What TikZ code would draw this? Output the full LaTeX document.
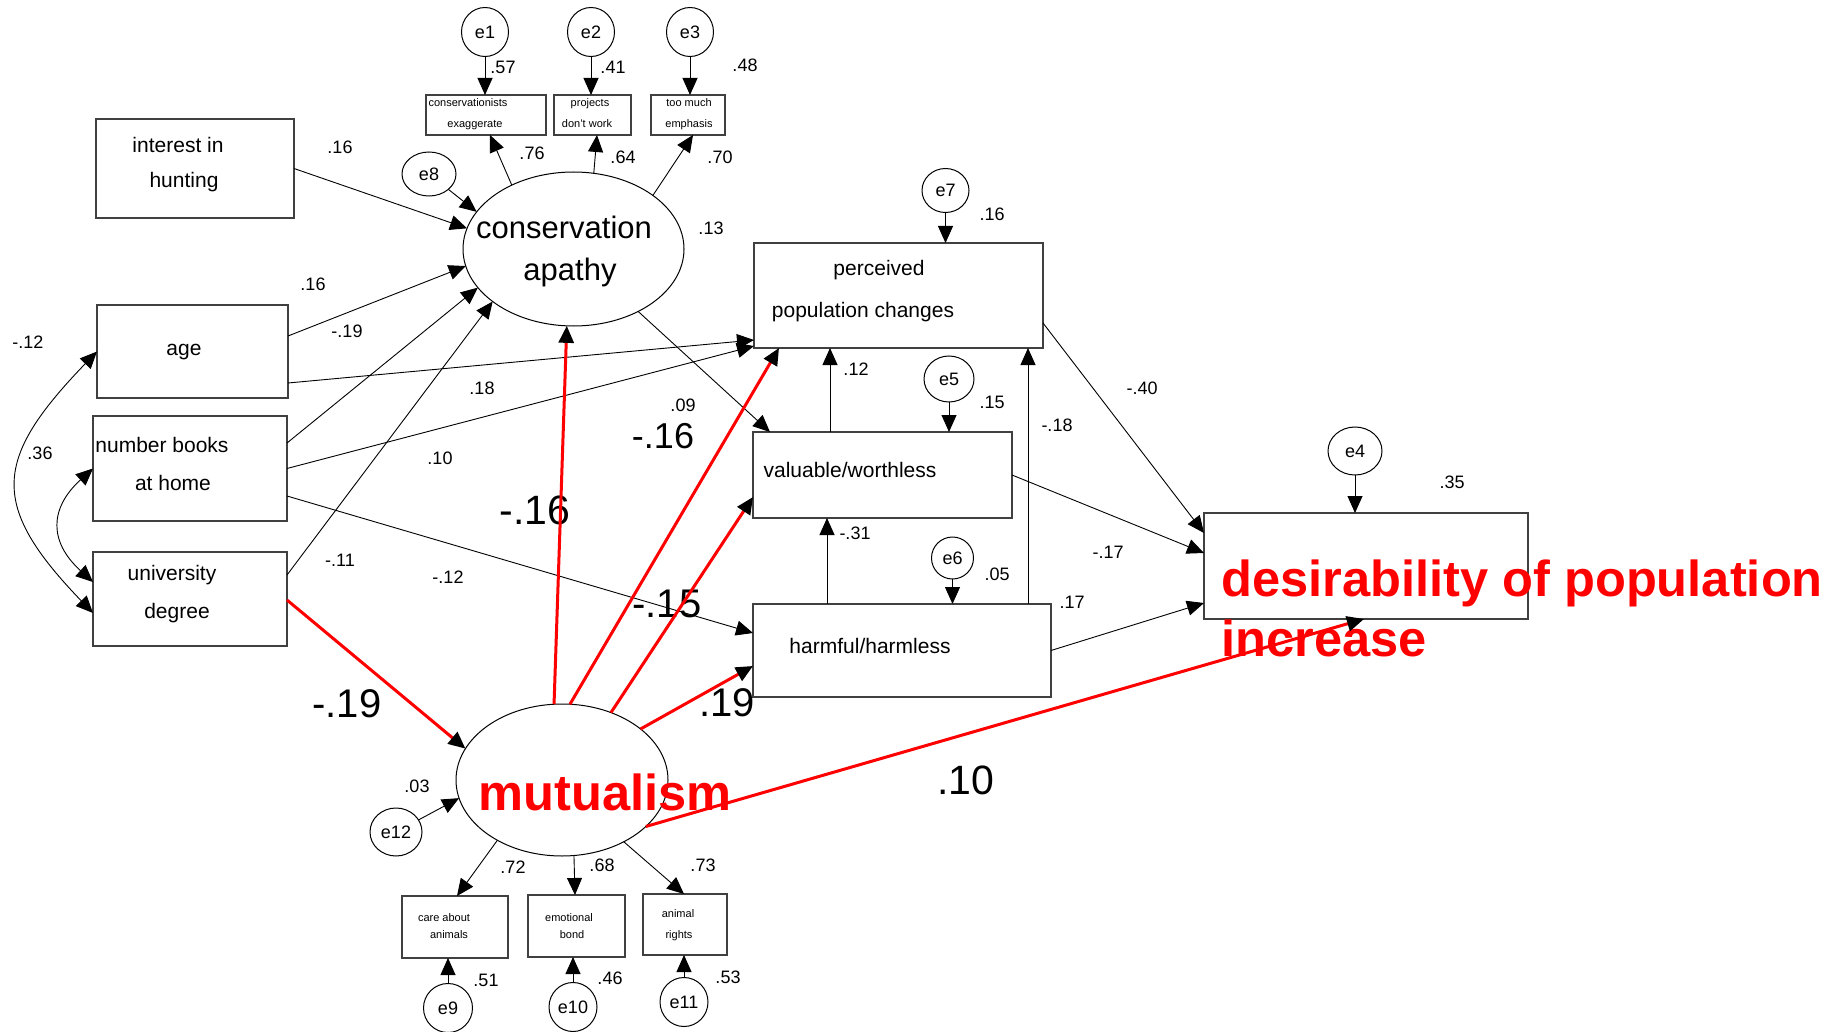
\documentclass[tikz,border=0pt]{standalone}
\usepackage{fontspec}
\setmainfont{Liberation Sans}
\usetikzlibrary{arrows.meta,shapes.geometric}
\begin{document}
\begin{tikzpicture}[x=1pt,y=-1pt,
  >={Triangle[length=17pt,width=15pt,color=black]},
  box/.style={draw=black!75,line width=1.2pt,rectangle,inner sep=0pt,outer sep=0pt},
  lat/.style={draw=black,line width=1pt,ellipse,inner sep=0pt,outer sep=0pt},
  err/.style={draw=black,line width=1pt,ellipse,inner sep=0pt,outer sep=0pt,font=\fontsize{18}{20}\selectfont},
  conn/.style={->,line width=0.9pt},
  rconn/.style={->,draw=red,line width=3pt},
  cov/.style={{Triangle[length=17pt,width=15pt]}-{Triangle[length=17pt,width=15pt]},line width=0.9pt},
  lbl/.style={inner sep=0pt,text height=13pt,text depth=0pt,font=\fontsize{18}{20}\selectfont},
  big/.style={inner sep=0pt,text height=29pt,text depth=0pt,font=\fontsize{40}{44}\selectfont},
  btxt/.style={inner sep=0pt,text height=15pt,text depth=0pt,font=\fontsize{21}{24}\selectfont},
  stxt/.style={inner sep=0pt,text height=8pt,text depth=0pt,font=\fontsize{11}{12}\selectfont},
  ltxt/.style={inner sep=0pt,text height=22pt,text depth=0pt,font=\fontsize{31}{36}\selectfont},
  rtxt/.style={inner sep=0pt,text=red,font=\fontsize{50.6}{60}\selectfont\bfseries},
]
\fill[white] (0,0) rectangle (1844,1032);
\useasboundingbox (0,0) rectangle (1844,1032);

% ---------- boxes ----------
\node[box,minimum width=198pt,minimum height=99pt] (hunt) at (195,168.5) {};
\node[box,minimum width=191pt,minimum height=93pt] (age) at (192.5,351.5) {};
\node[box,minimum width=194pt,minimum height=105pt] (books) at (190,468.5) {};
\node[box,minimum width=194pt,minimum height=94pt] (univ) at (190,599) {};
\node[box,minimum width=120pt,minimum height=40pt] (cons1) at (486,115) {};
\node[box,minimum width=77pt,minimum height=40pt] (cons2) at (592.5,115) {};
\node[box,minimum width=74pt,minimum height=40pt] (cons3) at (688,115) {};
\node[box,minimum width=289pt,minimum height=105pt] (perc) at (898.5,295.5) {};
\node[box,minimum width=259pt,minimum height=86pt] (valu) at (882.5,475) {};
\node[box,minimum width=298pt,minimum height=93pt] (harm) at (902,650.5) {};
\node[box,minimum width=324pt,minimum height=106pt] (des) at (1366,566) {};
\node[box,minimum width=106pt,minimum height=62pt] (care) at (455,927) {};
\node[box,minimum width=97pt,minimum height=62pt] (emo) at (576.5,926) {};
\node[box,minimum width=84pt,minimum height=61pt] (rights) at (685,924.5) {};

% ---------- latent ellipses ----------
\node[lat,minimum width=221pt,minimum height=154pt] (capa) at (573.5,249) {};
\node[lat,minimum width=212pt,minimum height=152pt] (mutu) at (562,780) {};

% ---------- error terms ----------
\node[err,minimum width=47pt,minimum height=49pt] (e1) at (485,32) {e1};
\node[err,minimum width=47pt,minimum height=49pt] (e2) at (591,32) {e2};
\node[err,minimum width=47pt,minimum height=49pt] (e3) at (690,32) {e3};
\node[err,minimum width=54pt,minimum height=44pt] (e8) at (429,174) {e8};
\node[err,minimum width=47pt,minimum height=44pt] (e7) at (945.5,190.5) {e7};
\node[err,minimum width=50pt,minimum height=46pt] (e5) at (949,379) {e5};
\node[err,minimum width=42pt,minimum height=42pt] (e6) at (952.5,558) {e6};
\node[err,minimum width=54pt,minimum height=48pt] (e4) at (1355,451) {e4};
\node[err,minimum width=52pt,minimum height=48pt] (e12) at (396,832) {e12};
\node[err,minimum width=49pt,minimum height=49pt] (e9) at (448,1008) {e9};
\node[err,minimum width=48pt,minimum height=49pt] (e10) at (573,1007) {e10};
\node[err,minimum width=48pt,minimum height=49pt] (e11) at (684,1002) {e11};

% ---------- texts in boxes ----------
\node[btxt] (thunt1) at (178,145) {interest in};
\node[btxt] (thunt2) at (184,180) {hunting};
\node[btxt] (tage) at (184,348) {age};
\node[btxt] (tbooks1) at (162,445) {number books};
\node[btxt] (tbooks2) at (173,483) {at home};
\node[btxt] (tuniv1) at (172,573) {university};
\node[btxt] (tuniv2) at (177,611) {degree};
\node[stxt] (tc1a) at (468,103) {conservationists};
\node[stxt] (tc1b) at (475,124) {exaggerate};
\node[stxt] (tc2a) at (590,103) {projects};
\node[stxt] (tc2b) at (587,124) {don't work};
\node[stxt] (tc3a) at (689,103) {too much};
\node[stxt] (tc3b) at (689,124) {emphasis};
\node[ltxt] (tcapa1) at (564,228) {conservation};
\node[ltxt] (tcapa2) at (570,270) {apathy};
\node[btxt] (tperc1) at (879,268) {perceived};
\node[btxt] (tperc2) at (863,310) {population changes};
\node[btxt] (tvalu) at (850,470) {valuable/worthless};
\node[btxt] (tharm) at (870,646) {harmful/harmless};
\node[stxt] (tcare1) at (444,917) {care about};
\node[stxt] (tcare2) at (449,934) {animals};
\node[stxt] (temo1) at (569,917) {emotional};
\node[stxt] (temo2) at (572,934) {bond};
\node[stxt] (trig1) at (678,913) {animal};
\node[stxt] (trig2) at (679,934) {rights};
\node[rtxt,anchor=north west,align=left] (tdes) at (1221,560) {desirability of population\\increase};
\node[rtxt,anchor=base] (tmutu) at (605,810) {mutualism};

% ---------- small coefficient labels ----------
\node[lbl] (l1) at (503,67) {.57};
\node[lbl] (l2) at (613,67) {.41};
\node[lbl] (l3) at (745,65) {.48};
\node[lbl] (l4) at (532,153) {.76};
\node[lbl] (l5) at (623,157) {.64};
\node[lbl] (l6) at (720,157) {.70};
\node[lbl] (l7) at (340,147) {.16};
\node[lbl] (l8) at (313,284) {.16};
\node[lbl] (l9) at (347,331) {-.19};
\node[lbl] (l10) at (482,388) {.18};
\node[lbl] (l11) at (440,458) {.10};
\node[lbl] (l12) at (340,560) {-.11};
\node[lbl] (l13) at (448,577) {-.12};
\node[lbl] (l14) at (683,405) {.09};
\node[lbl] (l15) at (711,228) {.13};
\node[lbl] (l16) at (28,342) {-.12};
\node[lbl] (l17) at (40,453) {.36};
\node[lbl] (l18) at (992,214) {.16};
\node[lbl] (l19) at (856,369) {.12};
\node[lbl] (l20) at (992,402) {.15};
\node[lbl] (l21) at (1057,425) {-.18};
\node[lbl] (l22) at (1142,388) {-.40};
\node[lbl] (l23) at (1108,552) {-.17};
\node[lbl] (l24) at (855,533) {-.31};
\node[lbl] (l25) at (997,574) {.05};
\node[lbl] (l26) at (1072,602) {.17};
\node[lbl] (l27) at (1452,482) {.35};
\node[lbl] (l28) at (417,786) {.03};
\node[lbl] (l29) at (513,867) {.72};
\node[lbl] (l30) at (602,865) {.68};
\node[lbl] (l31) at (703,865) {.73};
\node[lbl] (l32) at (486,980) {.51};
\node[lbl] (l33) at (610,978) {.46};
\node[lbl] (l34) at (728,977) {.53};

% ---------- large labels ----------
\node[big,font=\fontsize{36}{40}\selectfont,text height=26pt] (b1) at (663,435) {-.16};
\node[big,font=\fontsize{41}{45}\selectfont] (b2) at (535,510) {-.16};
\node[big] (b3) at (667,603) {-.15};
\node[big] (b4) at (347,703) {-.19};
\node[big] (b5) at (727,702) {.19};
\node[big,font=\fontsize{41}{45}\selectfont] (b6) at (966,780) {.10};

% ---------- connectors into conservation apathy ----------
\draw[conn] (hunt.east) -- (capa.169.9);
\draw[conn] ([yshift=15.5pt]age.east) -- (capa.189.4);
\draw[conn] ([yshift=25.5pt]books.east) -- (capa.202.6);
\draw[conn] ([yshift=24pt]univ.east) -- (capa.213.4);
\draw[conn] (e8) -- (capa.159);
% conservation apathy outputs
\draw[conn] (capa.134.8) -- ([xshift=4pt]cons1.south);
\draw[conn] (capa.75.6) -- ([xshift=4.5pt]cons2.south);
\draw[conn] (capa.34.5) -- ([xshift=5pt]cons3.south);
\draw[conn] (capa.316.5) -- ([xshift=17pt]valu.north west);
% into perceived / harmful
\draw[conn] ([yshift=-31.5pt]age.east) -- ([yshift=-44.5pt]perc.west);
\draw[conn] (books.east) -- ([yshift=2pt]perc.south west);
\draw[conn] ([yshift=-27.5pt]books.east) -- ([yshift=17.5pt]harm.west);
% vertical links among mediators
\draw[conn] ([xshift=77pt]valu.north west) -- ([xshift=77pt]valu.north west |- perc.south);
\draw[conn] ([xshift=74pt]harm.north west) -- ([xshift=74pt]harm.north west |- valu.south);
\draw[conn] ([xshift=-23pt]harm.north east) -- ([xshift=-23pt]harm.north east |- perc.south);
% into desirability
\draw[conn] ([yshift=-27.5pt]perc.east) -- ([yshift=33pt]des.west);
\draw[conn] (valu.east) -- ([yshift=13pt]des.west);
\draw[conn] (harm.east) -- ([yshift=-37pt]des.west);
% error arrows
\draw[conn] (e1.south) -- (e1.south |- cons1.north);
\draw[conn] (e2.south) -- (e2.south |- cons2.north);
\draw[conn] (e3.south) -- (e3.south |- cons3.north);
\draw[conn] (e7.south) -- (e7.south |- perc.north);
\draw[conn] (e5.south) -- (e5.south |- valu.north);
\draw[conn] (e6.south) -- (e6.south |- harm.north);
\draw[conn] (e4.south) -- (e4.south |- des.north);
\draw[conn] (e12) -- (mutu.190.9);
\draw[conn] (e9.north) -- (e9.north |- care.south);
\draw[conn] (e10.north) -- (e10.north |- emo.south);
\draw[conn] (e11.north) -- (e11.north |- rights.south);
% mutualism indicators
\draw[conn] (mutu.223.2) -- ([xshift=2pt]care.north);
\draw[conn] (mutu.279) -- ([xshift=-1.5pt]emo.north);
\draw[conn] (mutu.315.5) -- ([xshift=-1pt]rights.north);
% covariances
\draw[cov] (age.west) .. controls ([xshift=-104pt,yshift=-108pt]age.west) and ([xshift=-104pt,yshift=94pt]univ.west) .. ([yshift=-14pt]univ.west);
\draw[cov] (books.west) .. controls ([xshift=-44pt,yshift=-40pt]books.west) and ([xshift=-44pt,yshift=57pt]univ.west) .. ([yshift=17pt]univ.west);
% red paths
\draw[rconn] ([yshift=-1pt]univ.east) -- (mutu.162.3);
\draw[rconn] (mutu.96.8) -- (capa.265.2);
\draw[rconn] (mutu.84) -- ([xshift=25pt]perc.south west);
\draw[rconn] (mutu.54.8) -- ([yshift=-22pt]valu.west);
\draw[rconn] (mutu.33.5) -- ([yshift=-15.5pt]harm.west);
\draw[rconn] (mutu.331.3) -- ([xshift=-2pt]des.south);
\end{tikzpicture}
\end{document}
